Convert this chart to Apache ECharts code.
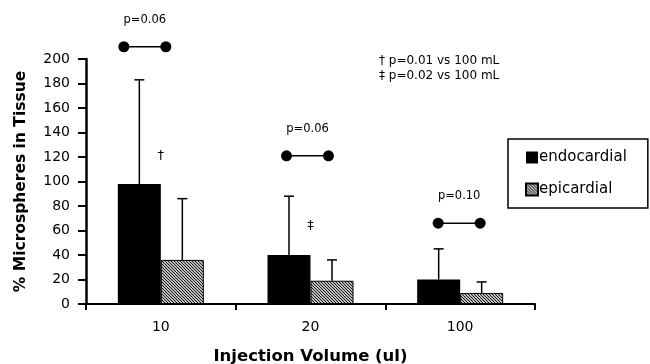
<!DOCTYPE html>
<html>
<head>
<meta charset="utf-8">
<script src="https://cdn.jsdelivr.net/npm/echarts@6/dist/echarts.min.js"></script>
<style>
  html, body { margin: 0; padding: 0; background: #fff; }
  #chart { width: 650px; height: 364px; }
</style>
</head>
<body>
<div id="chart"></div>
<script>
// data
const categories = ["10", "20", "100"];
const endoMean = [98, 40, 20];
const endoSD = [183, 88, 45];
const epiMean = [36, 19, 9];
const epiSD = [86, 36, 18];
const yTicks = [0, 20, 40, 60, 80, 100, 120, 140, 160, 180, 200];
// brackets: level of the dot line and its p label
const bracketLevel = [210, 121, 66];
const bracketLabel = ["p=0.06", "p=0.06", "p=0.10"];
// significance marks above the 10 and 20 groups
const markLevel = [121, 64];
const markText = ["\u2020", "\u2021"];

const FONT = "DejaVu Sans, Verdana, sans-serif";
const BAR_W = 43;

// hatched fill for the epicardial bars
function hatch() {
  const c = document.createElement("canvas");
  c.width = 3;
  c.height = 3;
  const ctx = c.getContext("2d");
  ctx.fillStyle = "#fff";
  ctx.fillRect(0, 0, 3, 3);
  ctx.strokeStyle = "#111";
  ctx.lineWidth = 1.1;
  ctx.beginPath();
  ctx.moveTo(0, 0); ctx.lineTo(3, 3);
  ctx.moveTo(-1.5, 1.5); ctx.lineTo(1.5, 4.5);
  ctx.moveTo(1.5, -1.5); ctx.lineTo(4.5, 1.5);
  ctx.stroke();
  return c;
}

// error bar: vertical line from bar top to mean+SD with a short cap
function errorBar(offset) {
  return (params, api) => {
    const base = api.coord([api.value(0), api.value(1)]);
    const top = api.coord([api.value(0), api.value(2)]);
    const x = base[0] + offset;
    return {
      type: "group",
      children: [
        { type: "line", shape: { x1: x, y1: base[1], x2: x, y2: top[1] }, style: { stroke: "#000", lineWidth: 1.5 } },
        { type: "line", shape: { x1: x - 5, y1: top[1], x2: x + 5, y2: top[1] }, style: { stroke: "#000", lineWidth: 1.5 } },
      ],
    };
  };
}

// small shift of the brackets relative to the group center
const bracketShift = [-16, -3, -1];

const chart = echarts.init(document.getElementById("chart"));

const option = {
  animation: false,
  textStyle: { fontFamily: FONT, color: "#000" },
  grid: { left: 86, right: 115, top: 59, bottom: 60, outerBoundsMode: "none" },
  legend: {
    orient: "vertical",
    left: 508,
    top: 139,
    padding: [11, 21, 11, 17],
    itemGap: 17,
    itemWidth: 12,
    itemHeight: 12,
    borderColor: "#000",
    borderWidth: 1.5,
    icon: "rect",
    textStyle: { fontSize: 15, fontFamily: FONT, color: "#000", padding: [0, 0, 0, -4] },
    data: ["endocardial", "epicardial"],
  },
  xAxis: {
    type: "category",
    data: categories,
    name: "Injection Volume (ul)",
    nameLocation: "middle",
    nameGap: 44,
    nameTextStyle: { fontSize: 16.5, fontWeight: "bold", color: "#000" },
    axisLine: { lineStyle: { color: "#000", width: 2 } },
    axisTick: { show: true, length: 6, lineStyle: { color: "#000", width: 2 } },
    axisLabel: { color: "#000", fontSize: 14, margin: 16 },
  },
  yAxis: {
    type: "value",
    min: yTicks[0],
    max: yTicks[yTicks.length - 1],
    interval: yTicks[1] - yTicks[0],
    name: "% Microspheres in Tissue",
    nameLocation: "middle",
    nameGap: 57,
    nameTextStyle: { fontSize: 15.5, fontWeight: "bold", color: "#000" },
    axisLine: { show: true, lineStyle: { color: "#000", width: 2.5 } },
    axisTick: { show: true, length: 8, lineStyle: { color: "#000", width: 2 } },
    axisLabel: { color: "#000", fontSize: 14, margin: 16 },
    splitLine: { show: false },
  },
  series: [
    {
      name: "endocardial",
      type: "bar",
      data: endoMean,
      barWidth: BAR_W,
      barGap: "0%",
      itemStyle: { color: "#000" },
    },
    {
      name: "epicardial",
      type: "bar",
      data: epiMean,
      barWidth: BAR_W,
      barGap: "0%",
      itemStyle: { color: { image: hatch(), repeat: "repeat" }, borderColor: "#000", borderWidth: 1 },
    },
    {
      type: "custom",
      renderItem: errorBar(-BAR_W / 2),
      data: categories.map((c, i) => [i, endoMean[i], endoSD[i]]),
      z: 3,
    },
    {
      type: "custom",
      renderItem: errorBar(BAR_W / 2),
      data: categories.map((c, i) => [i, epiMean[i], epiSD[i]]),
      z: 3,
    },
    // p-value brackets
    {
      type: "custom",
      renderItem: (params, api) => {
        const i = params.dataIndex;
        const p = api.coord([api.value(0), api.value(1)]);
        const x = p[0] + bracketShift[i];
        const y = p[1];
        return {
          type: "group",
          children: [
            { type: "line", shape: { x1: x - 21, y1: y, x2: x + 21, y2: y }, style: { stroke: "#000", lineWidth: 1.5 } },
            { type: "circle", shape: { cx: x - 21, cy: y, r: 5.5 }, style: { fill: "#000" } },
            { type: "circle", shape: { cx: x + 21, cy: y, r: 5.5 }, style: { fill: "#000" } },
            { type: "text", x: x, y: y - 27, style: { text: bracketLabel[i], fill: "#000", font: "11.5px " + FONT, align: "center", verticalAlign: "middle" } },
          ],
        };
      },
      data: bracketLevel.map((v, i) => [i, v]),
      z: 4,
    },
    // dagger marks
    {
      type: "custom",
      renderItem: (params, api) => {
        const p = api.coord([api.value(0), api.value(1)]);
        return {
          type: "text",
          x: p[0],
          y: p[1],
          style: { text: markText[params.dataIndex], fill: "#000", font: "13px " + FONT, align: "center", verticalAlign: "middle" },
        };
      },
      data: markLevel.map((v, i) => [i, v]),
      z: 4,
    },
  ],
  graphic: [
    {
      type: "text",
      left: 379,
      top: 53,
      style: { text: "\u2020 p=0.01 vs 100 mL\n\u2021 p=0.02 vs 100 mL", fill: "#000", font: "12px " + FONT, lineHeight: 15 },
    },
  ],
};

chart.setOption(option);
</script>
</body>
</html>
